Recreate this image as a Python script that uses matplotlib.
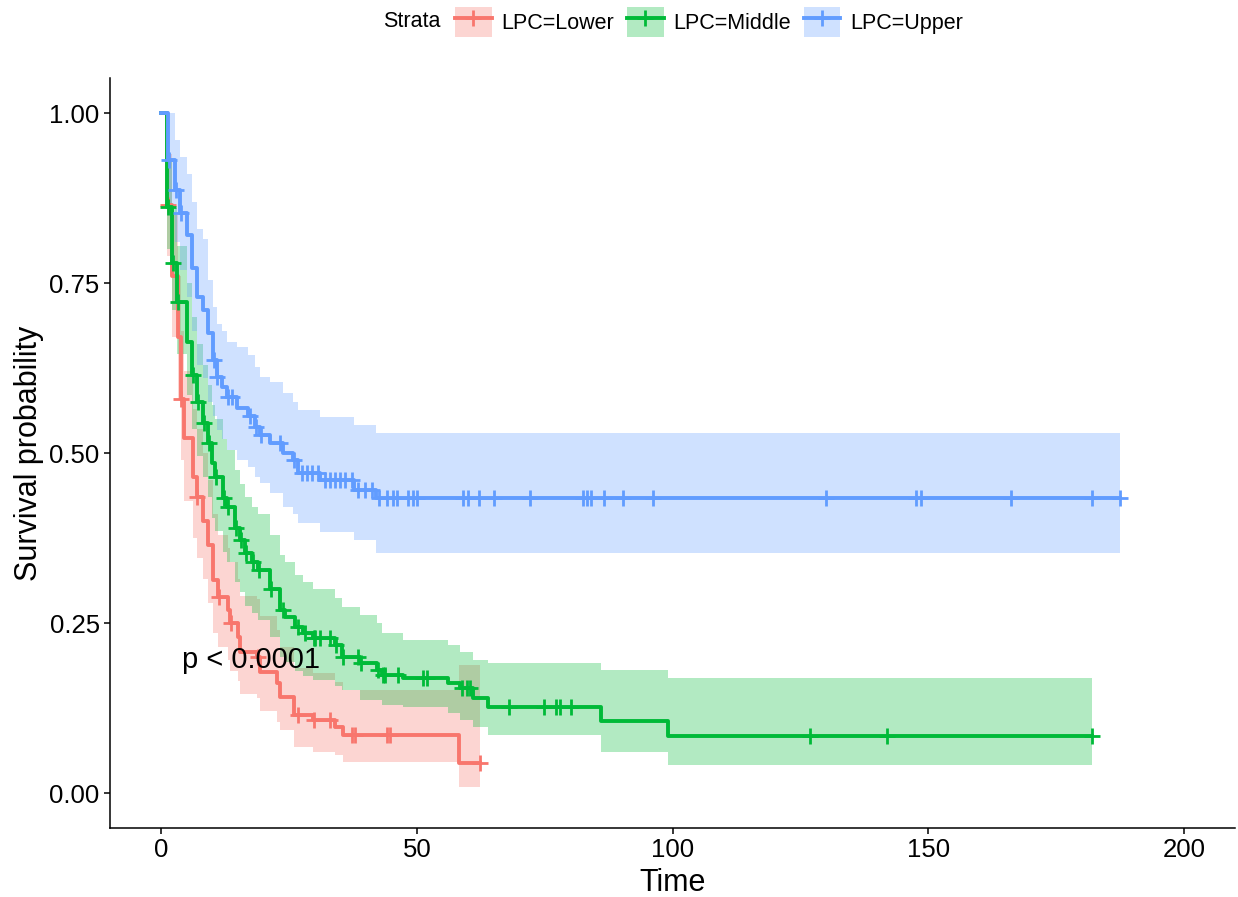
import numpy as np
import matplotlib
matplotlib.use('Agg')
import matplotlib.pyplot as plt
from matplotlib.patches import Patch
from matplotlib.lines import Line2D
from matplotlib.legend_handler import HandlerTuple

plt.rcParams['font.family'] = ['Liberation Sans', 'DejaVu Sans']

strata = ['LPC=Lower', 'LPC=Middle', 'LPC=Upper']
colors = ['#F8766D', '#00BA38', '#619CFF']

# LPC=Lower
low_time = [0, 1.2, 2.1, 3.3, 3.8, 4.5, 6.2, 7.0, 8.2, 9.2, 10.2, 11.1, 13.1, 13.5,
            15.1, 15.4, 18.8, 19.4, 22.7, 23.2, 26.0, 29.7, 34.0, 35.6, 58.3]
low_surv = [1.0, 0.865, 0.76, 0.67, 0.58, 0.522, 0.465, 0.435, 0.40, 0.365, 0.313, 0.288,
            0.269, 0.25, 0.229, 0.207, 0.20, 0.178, 0.162, 0.141, 0.115, 0.107, 0.097, 0.085, 0.044]
low_upper = [1.0, 0.94, 0.85, 0.76, 0.68, 0.62, 0.565, 0.535, 0.50, 0.46, 0.41, 0.38,
             0.36, 0.34, 0.315, 0.29, 0.285, 0.26, 0.24, 0.215, 0.184, 0.176, 0.163, 0.151, 0.188]
low_lower = [1.0, 0.79, 0.67, 0.58, 0.49, 0.43, 0.375, 0.345, 0.315, 0.28, 0.235, 0.215,
             0.195, 0.18, 0.165, 0.145, 0.14, 0.12, 0.105, 0.093, 0.068, 0.06, 0.056, 0.046, 0.009]
low_censor = [1.3, 3.9, 7.1, 11.3, 13.6, 19.0, 26.8, 29.9, 33.0, 37.3, 37.9, 44.2, 44.8, 62.4]
low_end = 62.4

# LPC=Middle
mid_time = [0, 1.2, 2.15, 3.1, 5.1, 6.1, 7.0, 8.2, 9.2, 10.0, 10.6, 12.1, 12.9, 14.5, 15.4,
            16.4, 17.8, 19.0, 21.3, 23.3, 24.2, 26.2, 27.8, 29.7, 34.0, 35.4, 38.9, 42.2,
            43.2, 47.3, 56.1, 58.5, 61.0, 63.9, 86.0, 99.1]
mid_surv = [1.0, 0.862, 0.78, 0.722, 0.663, 0.615, 0.575, 0.544, 0.515, 0.485, 0.465, 0.434,
            0.42, 0.39, 0.372, 0.353, 0.34, 0.328, 0.30, 0.269, 0.259, 0.244, 0.235, 0.228,
            0.218, 0.20, 0.191, 0.181, 0.174, 0.169, 0.162, 0.154, 0.14, 0.127, 0.106, 0.084]
mid_upper = [1.0, 0.93, 0.86, 0.805, 0.75, 0.70, 0.66, 0.63, 0.60, 0.57, 0.55, 0.52, 0.505,
             0.475, 0.455, 0.435, 0.42, 0.41, 0.38, 0.35, 0.34, 0.32, 0.31, 0.30, 0.287, 0.274,
             0.262, 0.25, 0.235, 0.225, 0.218, 0.207, 0.195, 0.191, 0.181, 0.169]
mid_lower = [1.0, 0.80, 0.71, 0.645, 0.585, 0.535, 0.495, 0.465, 0.435, 0.405, 0.385, 0.355,
             0.34, 0.31, 0.295, 0.275, 0.265, 0.255, 0.23, 0.20, 0.192, 0.18, 0.172, 0.166,
             0.158, 0.151, 0.137, 0.137, 0.13, 0.127, 0.118, 0.107, 0.097, 0.085, 0.06, 0.041]
mid_censor = [1.3, 2.3, 3.3, 6.3, 7.2, 8.4, 9.4, 10.8, 12.3, 13.0, 14.7, 15.6, 16.6, 18.0,
              19.2, 21.5, 23.9, 26.8, 28.2, 29.9, 30.1, 31.1, 33.0, 34.2, 35.6, 38.5, 39.1,
              42.4, 43.4, 43.8, 46.3, 51.2, 52.0, 58.8, 59.8, 60.4, 68.0, 74.9, 77.2, 78.0,
              80.2, 126.9, 141.9, 182.0]
mid_end = 182.0

# LPC=Upper
up_time = [0, 1.4, 2.7, 3.7, 5.1, 6.1, 7.0, 8.2, 9.2, 10.2, 10.9, 11.9, 12.9, 14.9, 17.0,
           18.4, 19.4, 21.3, 23.9, 25.8, 26.8, 31.1, 37.7, 42.0]
up_surv = [1.0, 0.931, 0.887, 0.853, 0.821, 0.772, 0.73, 0.71, 0.676, 0.637, 0.612, 0.597,
           0.582, 0.566, 0.555, 0.538, 0.526, 0.515, 0.50, 0.49, 0.47, 0.46, 0.446, 0.434]
up_upper = [1.0, 1.0, 0.96, 0.935, 0.91, 0.87, 0.83, 0.815, 0.755, 0.715, 0.69, 0.68, 0.663,
            0.656, 0.644, 0.627, 0.612, 0.604, 0.588, 0.575, 0.563, 0.553, 0.541, 0.529]
up_lower = [1.0, 0.86, 0.81, 0.77, 0.73, 0.68, 0.63, 0.61, 0.575, 0.555, 0.534, 0.52, 0.504,
            0.49, 0.479, 0.465, 0.456, 0.441, 0.42, 0.41, 0.397, 0.384, 0.372, 0.353]
up_censor = [1.6, 2.9, 3.9, 10.4, 11.0, 13.1, 13.9, 17.4, 18.6, 19.6, 23.3, 25.9, 27.6, 28.5,
             29.5, 30.7, 32.1, 33.0, 34.0, 35.0, 36.0, 37.3, 38.5, 39.9, 41.3, 42.6, 44.2,
             45.4, 46.1, 48.3, 49.3, 50.0, 59.0, 60.0, 62.2, 65.1, 72.1, 82.5, 83.3, 84.1,
             86.6, 90.4, 96.2, 130.0, 147.6, 148.6, 166.2, 182.0, 187.5]
up_end = 187.5

groups = [
    (low_time, low_surv, low_lower, low_upper, low_censor, low_end),
    (mid_time, mid_surv, mid_lower, mid_upper, mid_censor, mid_end),
    (up_time, up_surv, up_lower, up_upper, up_censor, up_end),
]

fig = plt.figure(figsize=(12.38, 8.97), dpi=100)
ax = fig.add_axes([0.0889, 0.0769, 0.9087, 0.836])

# bands first, then curves on top (like ggsurvplot)
for (t, s, lo, hi, cens, end), c in zip(groups, colors):
    tt = np.append(t, end)
    ax.fill_between(tt, np.append(lo, lo[-1]), np.append(hi, hi[-1]), step='post',
                    color=c, alpha=0.3, lw=0)

for (t, s, lo, hi, cens, end), c in zip(groups, colors):
    tt = np.append(t, end)
    ss = np.append(s, s[-1])
    ax.step(tt, ss, where='post', color=c, lw=2.8)
    idx = np.searchsorted(t, cens, side='right') - 1
    ax.plot(cens, np.array(s)[idx], '+', color=c, ms=11, mew=2, ls='none')

ax.text(4, 0.196, 'p < 0.0001', fontsize=21, va='center', ha='left')

ax.set_xlim(-10, 210)
ax.set_ylim(-0.0515, 1.0515)
ax.set_xticks([0, 50, 100, 150, 200])
ax.set_yticks([0, 0.25, 0.5, 0.75, 1.0])
ax.set_yticklabels(['0.00', '0.25', '0.50', '0.75', '1.00'])
ax.spines['top'].set_visible(False)
ax.spines['right'].set_visible(False)
ax.spines['left'].set_linewidth(1.1)
ax.spines['bottom'].set_linewidth(1.1)
ax.tick_params(labelsize=18.5, length=4, width=1.1, pad=3.5)
ax.set_xlabel('Time', fontsize=22, labelpad=4)
ax.set_ylabel('Survival probability', fontsize=22, labelpad=4)

handles = []
for c in colors:
    handles.append((Patch(facecolor=c, alpha=0.3, edgecolor='none'),
                    Line2D([], [], color=c, lw=2.8, marker='+', ms=11, mew=2)))
fig.text(383 / 1238, 0.9755, 'Strata', fontsize=15.5, va='center', ha='left')
fig.legend(handles, strata, handler_map={tuple: HandlerTuple(ndivide=1)},
           loc='center left', bbox_to_anchor=(455 / 1238, 0.9755), ncol=3, frameon=False,
           fontsize=15.5, handlelength=1.7, handleheight=1.7, handletextpad=0.45,
           columnspacing=0.6, borderpad=0, borderaxespad=0)

fig.savefig('out.png', dpi=100)
